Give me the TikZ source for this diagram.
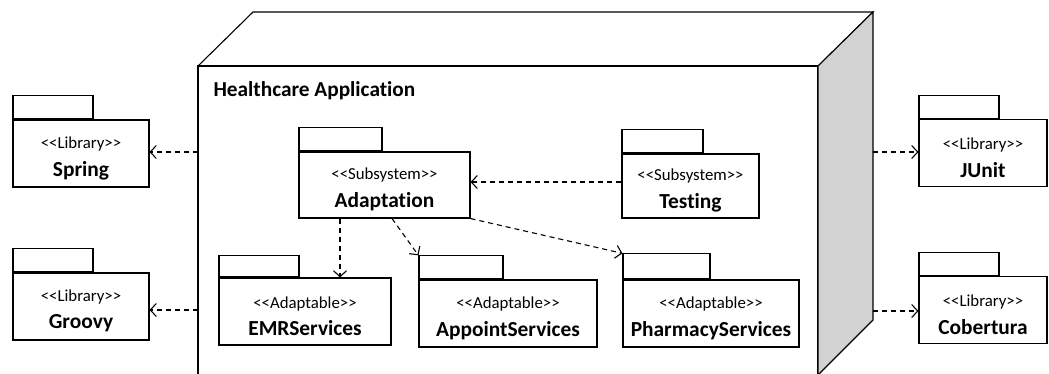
\documentclass[tikz,border=0pt]{standalone}
\usepackage{fontspec}
\setmainfont{Carlito}[Ligatures=NoCommon]
\usepackage{tikz}
\usetikzlibrary{arrows.meta}

\newcommand{\stereo}[1]{{\fontsize{16.8}{18}\selectfont\rule{0pt}{21pt}<{}<#1>{}>}}
\newcommand{\pkgname}[1]{{\fontsize{21.4}{26}\selectfont\bfseries #1}}

\begin{document}
\begin{tikzpicture}[x=1pt, y=-1pt, line width=1.1pt,
	pkg/.style={rectangle, draw, minimum height=67pt, align=center, inner sep=1pt},
	tab/.style={rectangle, draw, minimum height=23pt, anchor=south west, inner sep=0pt},
	dep/.style={dashed, dash pattern=on 5pt off 4pt, -{Straight Barb[length=6pt,width=13pt]}}]
	
	\useasboundingbox (0,0) rectangle (1049,373);
	\clip (0,0) rectangle (1049,373);
	
	% Node (3D box)
	\draw (198,66) rectangle (818,380);
	\draw (198,66) -- (253,12) -- (873,12) -- (818,66);
	\draw[fill=gray!35] (818,66) -- (873,12) -- (873,320) -- (818,375) -- cycle;
	\node[anchor=west, inner sep=0pt] (title) at (213,91) {\fontsize{21.3}{24}\selectfont\bfseries Healthcare Application};
	
	% Libraries
	\node[pkg, minimum width=136pt] (spring) at (81,153.5) {\stereo{Library}\\[9pt]\pkgname{Spring}};
	\node[pkg, minimum width=136pt] (groovy) at (81,306.5) {\stereo{Library}\\[9pt]\pkgname{Groovy}};
	\node[pkg, minimum width=128pt] (junit) at (983,153) {\stereo{Library}\\[9pt]\pkgname{JUnit}};
	\node[pkg, minimum width=128pt] (cobertura) at (983,310) {\stereo{Library}\\[9pt]\pkgname{Cobertura}};
	\node[tab, minimum width=80pt] (springtab) at (spring.north west) {};
	\node[tab, minimum width=80pt] (groovytab) at (groovy.north west) {};
	\node[tab, minimum width=80pt] (junittab) at (junit.north west) {};
	\node[tab, minimum width=80pt] (coberturatab) at (cobertura.north west) {};
	
	% Subsystems
	\node[pkg, minimum width=171pt, minimum height=66pt] (adapt) at (384.5,185) {\stereo{Subsystem}\\[9pt]\pkgname{Adaptation}};
	\node[pkg, minimum width=137pt, minimum height=64pt] (testing) at (690.5,186) {\stereo{Subsystem}\\[9pt]\pkgname{Testing}};
	\node[tab, minimum width=83pt] (adapttab) at (adapt.north west) {};
	\node[tab, minimum width=81pt] (testingtab) at (testing.north west) {};
	
	% Adaptables
	\node[pkg, minimum width=172pt] (emr) at (305,311.5) {\stereo{Adaptable}\\[9pt]\pkgname{EMRServices}};
	\node[pkg, minimum width=178pt] (appoint) at (508,313.5) {\stereo{Adaptable}\\[9pt]\pkgname{AppointServices}};
	\node[pkg, minimum width=176pt] (pharmacy) at (711,313.5) {\stereo{Adaptable}\\[9pt]\pkgname{PharmacyServices}};
	\node[tab, minimum width=80pt, minimum height=21pt] (emrtab) at (emr.north west) {};
	\node[tab, minimum width=84pt] (appointtab) at (appoint.north west) {};
	\node[tab, minimum width=87pt, minimum height=25pt] (pharmacytab) at (pharmacy.north west) {};
	
	% Dependencies
	\coordinate (springout) at (198,152);
	\coordinate (groovyout) at (198,310);
	\coordinate (junitout) at (873,152);
	\coordinate (coberturaout) at (873,311);
	\draw[dep] (springout) -- (springout -| spring.east);
	\draw[dep] (groovyout) -- (groovyout -| groovy.east);
	\draw[dep] (junitout) -- (junitout -| junit.west);
	\draw[dep] (coberturaout) -- (coberturaout -| cobertura.west);
	\draw[dep] ([yshift=4pt]testing.west) -- ([yshift=3pt]adapt.east);
	\draw[dep] ([xshift=-44.5pt]adapt.south) -- ([xshift=35pt]emr.north);
	\draw[dep] ([xshift=7.5pt]adapt.south) -- (appointtab.north west);
	\draw[dep] (adapt.south east) -- (pharmacytab.north west);
	
\end{tikzpicture}
\end{document}
